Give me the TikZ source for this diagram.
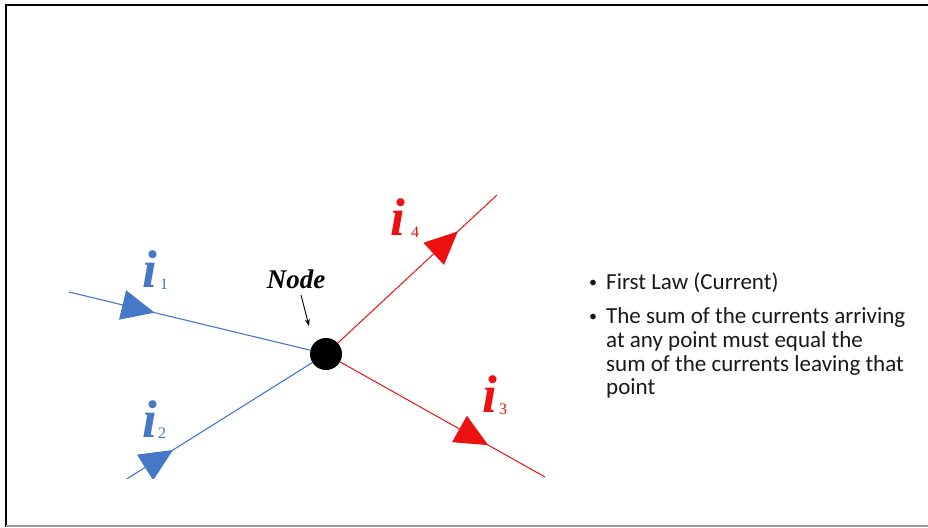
\documentclass[tikz,border=0pt]{standalone}
\usepackage{fontspec}
\setmainfont{Liberation Serif}
\newfontfamily\calib{Carlito}
\usetikzlibrary{arrows.meta,decorations.markings,calc}
\definecolor{wireblue}{RGB}{70,120,200}
\definecolor{wirered}{RGB}{236,16,16}
\begin{document}
\begin{tikzpicture}[x=1pt,y=-1pt,
  wireb/.style={draw=wireblue,line width=1.1pt},
  wirer/.style={draw=wirered,line width=1pt},
  tipat/.style 2 args={postaction={decorate},decoration={markings,
     mark=at position #1 with {\arrow{Triangle[length=33pt,width=30pt,color=#2,fill=#2]}}}},
  cur/.style={font=\fontsize{53}{53}\selectfont\bfseries\itshape, inner sep=0pt, anchor=base west},
  sub/.style={font=\fontsize{16}{16}\selectfont, inner sep=0pt, anchor=base west},
  txt/.style={font=\calib\fontsize{23}{27}\selectfont, inner sep=0pt, anchor=base west, text=black!90},
  bul/.style={font=\calib\fontsize{16}{16}\selectfont, inner sep=0pt, anchor=base west, text=black!90},
  dotn/.style={circle, fill=black, minimum size=32pt, inner sep=0pt}
]
\useasboundingbox (0,0) rectangle (928,527);
\fill[white] (0,0) rectangle (928,527);
% frame
\draw[line width=2pt, black] (6,527) -- (6,5) -- (928,5);
\draw[line width=1.2pt, black!40] (6,526) -- (928,526);

% junction
\node[dotn] (N) at (326,354) {};
\coordinate (a1) at (69,292);
\coordinate (a2) at (106,492);
\coordinate (a3) at (545,477);
\coordinate (a4) at (497,195);
\begin{scope}
  \clip (66,193) rectangle (548,478);
  \draw[wireb, tipat={0.355}{wireblue}] (a1) -- (N);
  \draw[wireb, tipat={0.325}{wireblue}] (a2) -- (N);
  \draw[wirer, tipat={0.754}{wirered}] (N) -- (a4);
  \draw[wirer, tipat={0.723}{wirered}] (N) -- (a3);
\end{scope}

% current labels
\node[cur, text=wireblue] (i1) at (142,287) {i};
\node[sub, text=wireblue] (s1) at (160,289) {1};
\node[cur, text=wireblue] (i2) at (142,437) {i};
\node[sub, text=wireblue] (s2) at (158,438) {2};
\node[cur, text=wirered] (i3) at (482,412) {i};
\node[sub, text=wirered] (s3) at (499,414) {3};
\node[cur, text=wirered] (i4) at (390,235) {i};
\node[sub, text=wirered] (s4) at (411,237) {4};

% Node label
\node[font=\fontsize{27}{27}\selectfont\bfseries\itshape, inner sep=0pt, anchor=base] (nl) at (296,288) {Node};
\coordinate (ns) at (301,295);
\coordinate (ne) at (309,326);
\draw[line width=0.9pt, -{Stealth[length=7pt,width=5pt]}] (ns) -- (ne);

% text
\node[bul] (b1) at (589,287) {\textbullet};
\node[txt] (t1) at (606,289) {First Law (Current)};
\node[bul] (b2) at (589,321) {\textbullet};
\node[txt] (t2) at (606,323) {The sum of the currents arriving};
\node[txt] (t3) at (606,347) {at any point must equal the};
\node[txt] (t4) at (606,371) {sum of the currents leaving that};
\node[txt] (t5) at (606,394) {point};
\end{tikzpicture}
\end{document}
